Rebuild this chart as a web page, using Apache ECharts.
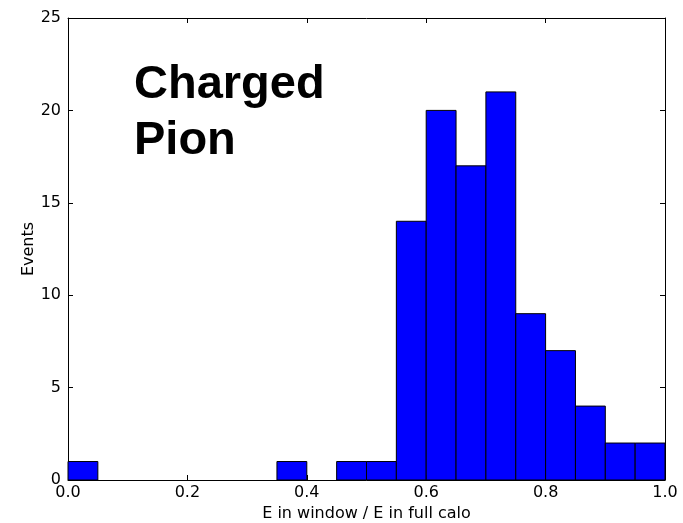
<!DOCTYPE html>
<html>
<head>
<meta charset="utf-8">
<script src="https://cdn.jsdelivr.net/npm/echarts@6/dist/echarts.min.js"></script>
<style>
  html, body { margin: 0; padding: 0; background: #fff; }
  #main { width: 683px; height: 523px; }
</style>
</head>
<body>
<div id="main"></div>
<script type="text/javascript">
    // histogram bins (left edge, right edge) and counts
    var binLo  = [0.00, 0.35, 0.45, 0.50, 0.55, 0.60, 0.65, 0.70, 0.75, 0.80, 0.85, 0.90, 0.95];
    var binHi  = [0.05, 0.40, 0.50, 0.55, 0.60, 0.65, 0.70, 0.75, 0.80, 0.85, 0.90, 0.95, 1.00];
    var counts = [1, 1, 1, 1, 14, 20, 17, 21, 9, 7, 4, 2, 2];

    var data = binLo.map(function (lo, i) { return [lo, binHi[i], counts[i]]; });

    var font = 'DejaVu Sans';
    var tick = { show: true, inside: true, length: 5, lineStyle: { color: '#000' } };
    var line = { show: true, onZero: false, lineStyle: { color: '#000', width: 1 } };

    var myChart = echarts.init(document.getElementById('main'));
    var option = {
        animation: false,
        backgroundColor: '#fff',
        grid: { left: 68, right: 18, top: 18, bottom: 43, outerBoundsMode: 'none', containLabel: false },
        graphic: [{
            type: 'text',
            left: 134,
            top: 57,
            style: {
                text: 'Charged\nPion',
                font: 'bold 47px "Liberation Sans", Arial, sans-serif',
                lineHeight: 56,
                fill: '#000'
            }
        }],
        xAxis: [
            {
                type: 'value', min: 0, max: 1, interval: 0.2,
                name: 'E in window / E in full calo',
                nameLocation: 'middle', nameGap: 21,
                nameTextStyle: { fontFamily: font, fontSize: 16, color: '#000' },
                axisLine: line,
                axisTick: tick,
                axisLabel: { fontFamily: font, fontSize: 16, color: '#000', margin: 5,
                    formatter: function (v) { return v.toFixed(1); } },
                splitLine: { show: false }
            },
            {
                type: 'value', min: 0, max: 1, interval: 0.2, position: 'top',
                axisLine: line,
                axisTick: tick,
                axisLabel: { show: false },
                splitLine: { show: false }
            }
        ],
        yAxis: [
            {
                type: 'value', min: 0, max: 25, interval: 5,
                name: 'Events',
                nameLocation: 'middle', nameGap: 31, nameRotate: 90,
                nameMoveOverlap: false,
                nameTextStyle: { fontFamily: font, fontSize: 16, color: '#000' },
                axisLine: line,
                axisTick: tick,
                axisLabel: { fontFamily: font, fontSize: 16, color: '#000', margin: 7 },
                splitLine: { show: false }
            },
            {
                type: 'value', min: 0, max: 25, interval: 5, position: 'right',
                axisLine: line,
                axisTick: tick,
                axisLabel: { show: false },
                splitLine: { show: false }
            }
        ],
        series: [{
            type: 'custom',
            xAxisIndex: 0,
            yAxisIndex: 0,
            data: data,
            encode: { x: [0, 1], y: 2 },
            renderItem: function (params, api) {
                var p0 = api.coord([api.value(0), 0]);
                var p1 = api.coord([api.value(1), api.value(2)]);
                return {
                    type: 'rect',
                    shape: { x: p0[0], y: p1[1], width: p1[0] - p0[0], height: p0[1] - p1[1] },
                    style: { fill: '#0000ff', stroke: '#000', lineWidth: 1 }
                };
            }
        }]
    };
    myChart.setOption(option);
</script>
</body>
</html>
